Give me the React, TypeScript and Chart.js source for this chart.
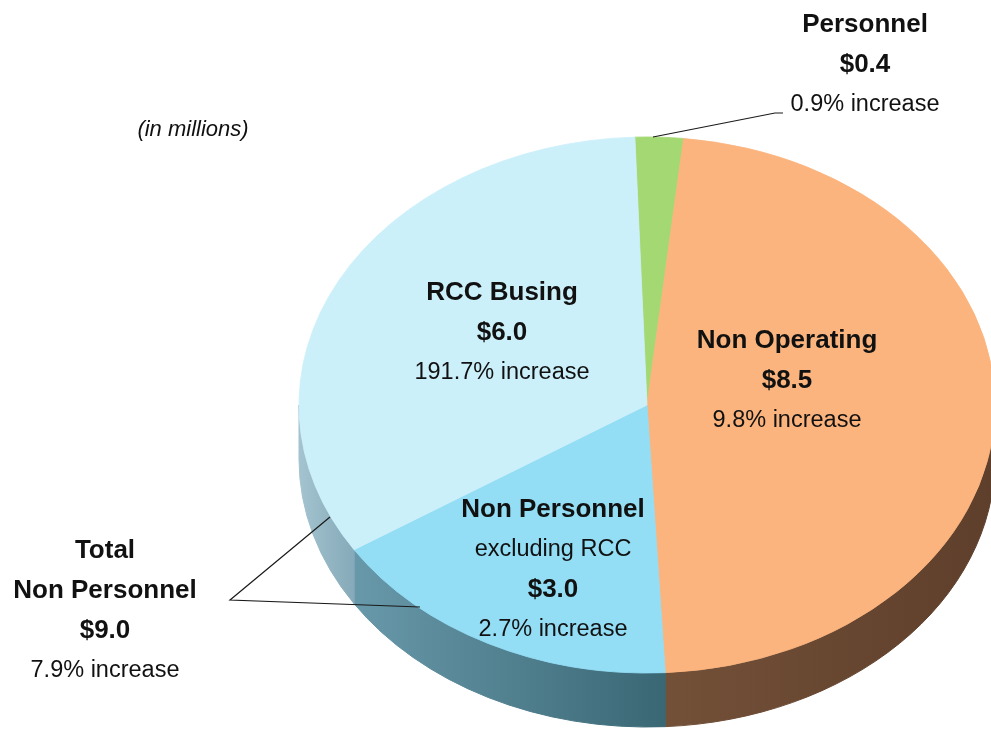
import React, { useEffect, useRef } from 'react';
import { Chart, registerables } from 'chart.js';

Chart.register(...registerables);

// ---- data ----
const categories = ['Personnel', 'Non Operating', 'Non Personnel excluding RCC', 'RCC Busing'];
const amounts = [0.4, 8.5, 3.0, 6.0]; // $ millions
const increases = [0.9, 9.8, 2.7, 191.7]; // % increase
const categoryLines = [['Personnel'], ['Non Operating'], ['Non Personnel', 'excluding RCC'], ['RCC Busing']];
const totalLines = ['Total', 'Non Personnel'];
const totalAmount = 9.0;
const totalIncrease = 7.9;
const unitNote = '(in millions)';

// ---- styles ----
const topColors = ['#a4d873', '#fbb47e', '#93ddf5', '#ccf0fa'];
const sideLight = ['#6f9048', '#735038', '#6899aa', '#a3c3cf'];
const sideDark = ['#5a7a3a', '#5e3f2b', '#3a6774', '#86aab9'];

// ---- layout ----
const PIE = { cx: 647, cy: 405, rx: 348, ry: 268, depth: 54 };
const LINE_GAP = 40;
const labelPos = [
  { x: 865, y: 25 },
  { x: 787, y: 341 },
  { x: 553, y: 510 },
  { x: 502, y: 293 },
];
const totalPos = { x: 105, y: 551 };
const notePos = { x: 193, y: 130 };
const BOLD = 'bold 26px "Liberation Sans", Arial, sans-serif';
const REG = '23.5px "Liberation Sans", Arial, sans-serif';
const ITAL = 'italic 22px "Liberation Sans", Arial, sans-serif';

function linesFor(i: number) {
  const out: { t: string; b: boolean }[] = [];
  categoryLines[i].forEach((t, j) => out.push({ t, b: j === 0 }));
  out.push({ t: '$' + amounts[i].toFixed(1), b: true });
  out.push({ t: increases[i] + '% increase', b: false });
  return out;
}

const pie3d = {
  id: 'pie3d',
  beforeDatasetsDraw(chart: any) {
    const ctx = chart.ctx as CanvasRenderingContext2D;
    const meta = chart.getDatasetMeta(0);
    const { cx, cy, rx, ry, depth } = PIE;
    meta.data.forEach((arc: any, i: number) => {
      const s = arc.startAngle, e = arc.endAngle;
      for (const k of [-1, 0, 1]) {
        const lo = Math.max(s, 2 * Math.PI * k);
        const hi = Math.min(e, 2 * Math.PI * k + Math.PI);
        if (hi > lo) {
          const xa = cx + rx * Math.cos(hi);
          const xb = cx + rx * Math.cos(lo);
          const g = ctx.createLinearGradient(Math.min(xa, xb), 0, Math.max(xa, xb), 0);
          const leftIsLight = i !== 1;
          g.addColorStop(0, leftIsLight ? sideLight[i] : sideLight[i]);
          g.addColorStop(1, sideDark[i]);
          ctx.save();
          ctx.beginPath();
          ctx.ellipse(cx, cy, rx, ry, 0, lo, hi, false);
          ctx.ellipse(cx, cy + depth, rx, ry, 0, hi, lo, true);
          ctx.closePath();
          ctx.fillStyle = g;
          ctx.strokeStyle = g;
          ctx.lineWidth = 1;
          ctx.fill();
          ctx.stroke();
          ctx.restore();
        }
      }
    });
    const a0 = meta.data[0];
    const r = a0.outerRadius;
    ctx.save();
    ctx.translate(cx, cy);
    ctx.scale(rx / r, ry / r);
    ctx.translate(-a0.x, -a0.y);
  },
  afterDatasetsDraw(chart: any) {
    const ctx = chart.ctx as CanvasRenderingContext2D;
    ctx.restore();
    // leader lines
    ctx.save();
    ctx.strokeStyle = '#1a1a1a';
    ctx.lineWidth = 1.2;
    ctx.beginPath();
    ctx.moveTo(653, 137);
    ctx.lineTo(775, 113);
    ctx.lineTo(783, 113);
    ctx.stroke();
    ctx.beginPath();
    ctx.moveTo(330, 517);
    ctx.lineTo(230, 600);
    ctx.lineTo(420, 607);
    ctx.stroke();
    // labels
    ctx.fillStyle = '#111';
    ctx.textAlign = 'center';
    ctx.textBaseline = 'middle';
    labelPos.forEach((p, i) => {
      linesFor(i).forEach((ln, j) => {
        ctx.font = ln.b ? BOLD : REG;
        ctx.fillText(ln.t, p.x, p.y + j * LINE_GAP);
      });
    });
    const tl = [
      ...totalLines.map((t) => ({ t, b: true })),
      { t: '$' + totalAmount.toFixed(1), b: true },
      { t: totalIncrease + '% increase', b: false },
    ];
    tl.forEach((ln, j) => {
      ctx.font = ln.b ? BOLD : REG;
      ctx.fillText(ln.t, totalPos.x, totalPos.y + j * LINE_GAP);
    });
    ctx.font = ITAL;
    ctx.fillText(unitNote, notePos.x, notePos.y);
    ctx.restore();
  },
};

export default function App() {
  const ref = useRef<HTMLCanvasElement>(null);
  useEffect(() => {
    if (!ref.current) return;
    const chart = new Chart(ref.current, {
      type: 'pie',
      data: {
        labels: categories,
        datasets: [
          {
            data: amounts,
            backgroundColor: topColors,
            borderColor: topColors,
            borderWidth: 1,
          },
        ],
      },
      options: {
        responsive: false,
        animation: false,
        rotation: -2,
        layout: { padding: 0 },
        plugins: { legend: { display: false }, tooltip: { enabled: false } },
      },
      plugins: [pie3d],
    });
    return () => chart.destroy();
  }, []);
  return (
    <div style={{ position: 'fixed', left: 0, top: 0, width: 991, height: 729, background: '#fff' }}>
      <canvas ref={ref} width={991} height={729} style={{ display: 'block' }} />
    </div>
  );
}
